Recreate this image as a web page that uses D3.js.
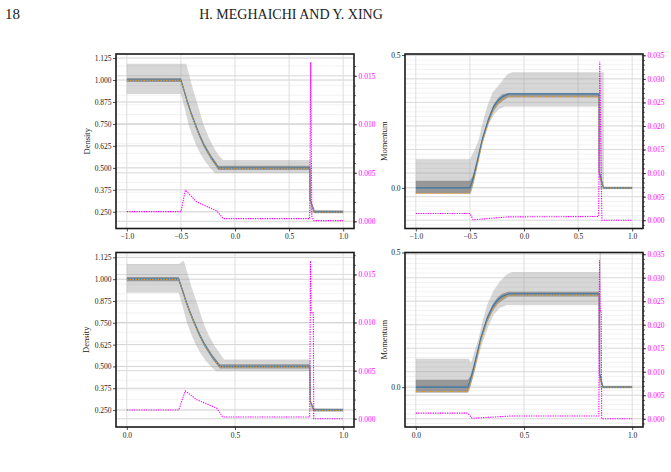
<!DOCTYPE html>
<html><head><meta charset="utf-8">
<script src="https://cdn.jsdelivr.net/npm/d3@7"></script>
<style>body{margin:0;background:#fff}svg{display:block}</style>
</head><body><svg id="c" width="671" height="472"></svg>
<script>
// ---------- DATA ----------
// Top-left: density, x in [-1,1]
const xTop = [-1,-0.5,-0.47,-0.44,-0.405,-0.369,-0.327,-0.283,-0.25,-0.22,-0.185,-0.154,0.692,0.694,0.732,1.0];
const densTopExact  = [1.0,1.0,0.9385,0.875,0.81,0.75,0.684,0.625,0.59,0.558,0.528,0.5,0.5,0.32,0.25,0.25];
const densTopMean   = [0.998,0.998,0.9365,0.873,0.808,0.748,0.682,0.623,0.588,0.556,0.526,0.498,0.498,0.32,0.248,0.248];
const densTopDarkHi = [1.012,1.012,0.9505,0.887,0.822,0.762,0.696,0.637,0.602,0.570,0.540,0.512,0.512,0.33,0.258,0.258];
const densTopDarkLo = [0.988,0.988,0.9265,0.863,0.798,0.738,0.672,0.613,0.578,0.546,0.516,0.488,0.488,0.31,0.242,0.242];
const densTopHiX = [-1,-0.45,-0.42,-0.39,-0.34,-0.293,-0.245,-0.2,-0.155,-0.11,0.705,0.708,0.74,1.0];
const densTopHi  = [1.092,1.092,1.02,0.95,0.85,0.75,0.675,0.62,0.575,0.545,0.545,0.30,0.262,0.258];
const densTopLoX = [-1,-0.5,-0.47,-0.431,-0.395,-0.36,-0.32,-0.28,-0.23,-0.185,0.69,0.692,1.0];
const densTopLo  = [0.92,0.92,0.85,0.75,0.685,0.63,0.58,0.54,0.5,0.47,0.47,0.243,0.243];
const errDensTopX = [-1,-0.5,-0.459,-0.354,-0.169,-0.108,0.69,0.70,0.71,0.73,1.0];
const errDensTop  = [0.001,0.001,0.00321,0.002,0.00107,0.00028,0.00028,0.0164,0.0005,0.00007,0.00007];

// Top-right: momentum, x in [-1,1]
const momTopX = [-1,-0.5,-0.478,-0.457,-0.42,-0.386,-0.33,-0.28,-0.24,-0.2,-0.145,0.692,0.694,0.735,1.0];
const momTopExact  = [0,0,0.025,0.056,0.12,0.181,0.255,0.306,0.329,0.343,0.354,0.354,0.06,0,0];
const momTopMean   = [-0.021,-0.021,0.005,0.04,0.105,0.17,0.245,0.296,0.318,0.332,0.343,0.343,0.05,0,0];
const momTopDarkHi = [0.027,0.027,0.04,0.07,0.132,0.19,0.265,0.315,0.338,0.352,0.356,0.356,0.07,0.003,0.003];
const momTopDarkLo = [-0.021,-0.021,0.0,0.035,0.1,0.165,0.24,0.29,0.313,0.327,0.341,0.341,0.04,-0.003,-0.003];
const momTopHiX = [-1,-0.5,-0.46,-0.418,-0.38,-0.34,-0.29,-0.218,-0.16,-0.11,0.737,0.739,1.0];
const momTopHi  = [0.108,0.108,0.14,0.181,0.25,0.306,0.36,0.394,0.425,0.435,0.435,0.005,0.005];
const momTopLoX = [-1,-0.49,-0.46,-0.43,-0.395,-0.36,-0.32,-0.27,-0.225,-0.18,0.69,0.70,1.0];
const momTopLo  = [-0.022,-0.022,0.03,0.09,0.15,0.2,0.245,0.28,0.298,0.306,0.306,-0.005,-0.005];
const errMomTopX = [-1,-0.5,-0.47,-0.15,0.69,0.70,0.72,1.0];
const errMomTop  = [0.00142,0.00142,0.0001,0.0007,0.00078,0.0336,0.0,0.0];

// Bottom-left: density, x in [0,1]
const xBot = [0,0.24,0.2565,0.273,0.2922,0.3119,0.335,0.3591,0.3773,0.3937,0.4129,0.43,0.846,0.848,0.864,1.0];
const densBotExact  = [1.0,1.0,0.9385,0.875,0.81,0.75,0.684,0.625,0.59,0.558,0.528,0.5,0.5,0.3,0.25,0.25];
const densBotMean   = [0.998,0.998,0.9365,0.873,0.808,0.748,0.682,0.623,0.588,0.556,0.526,0.498,0.498,0.3,0.248,0.248];
const densBotDarkHi = [1.012,1.012,0.9505,0.887,0.822,0.762,0.696,0.637,0.602,0.570,0.540,0.512,0.512,0.31,0.258,0.258];
const densBotDarkLo = [0.988,0.988,0.9265,0.863,0.798,0.738,0.672,0.613,0.578,0.546,0.516,0.488,0.488,0.29,0.242,0.242];
const densBotHiX = [0,0.24,0.262,0.2675,0.2839,0.3004,0.3278,0.3536,0.38,0.4047,0.4294,0.45,0.85,0.852,0.87,1.0];
const densBotHi  = [1.087,1.087,1.106,1.09,1.02,0.95,0.85,0.75,0.675,0.62,0.575,0.54,0.54,0.30,0.26,0.258];
const densBotLoX = [0,0.24,0.2565,0.2779,0.2976,0.3169,0.3388,0.3608,0.3882,0.4129,0.845,0.847,1.0];
const densBotLo  = [0.9226,0.9226,0.85,0.75,0.685,0.63,0.58,0.54,0.5,0.473,0.473,0.243,0.243];
const errDensBotX = [0,0.24,0.27,0.3236,0.4156,0.4433,0.845,0.849,0.852,0.862,0.864,1.0];
const errDensBot  = [0.0009,0.0009,0.0029,0.00197,0.0011,0.00018,0.00018,0.0164,0.011,0.011,0.0,0.0];

// Bottom-right: momentum, x in [0,1]
const momBotX = [0,0.24,0.2516,0.2627,0.2822,0.3002,0.3298,0.3562,0.3773,0.3984,0.4275,0.847,0.849,0.865,1.0];
const momBotExact  = [0,0,0.025,0.056,0.12,0.181,0.255,0.3,0.323,0.337,0.346,0.346,0.05,0,0];
const momBotMean   = [-0.016,-0.016,0.008,0.04,0.105,0.17,0.245,0.29,0.313,0.328,0.342,0.342,0.04,0,0];
const momBotDarkHi = [0.027,0.027,0.04,0.07,0.132,0.19,0.265,0.31,0.333,0.347,0.354,0.354,0.06,0.003,0.003];
const momBotDarkLo = [-0.02,-0.02,0.0,0.035,0.1,0.165,0.24,0.285,0.308,0.322,0.337,0.337,0.03,-0.003,-0.003];
const momBotHiX = [0,0.245,0.255,0.27,0.29,0.31,0.33,0.36,0.39,0.42,0.445,0.848,0.849,0.856,0.858,1.0];
const momBotHi  = [0.105,0.105,0.09,0.13,0.181,0.25,0.306,0.36,0.394,0.418,0.428,0.428,0.5,0.5,0.005,0.005];
const momBotLoX = [0,0.245,0.257,0.27,0.29,0.31,0.335,0.36,0.39,0.42,0.845,0.847,1.0];
const momBotLo  = [-0.02,-0.02,0.02,0.05,0.115,0.17,0.225,0.27,0.295,0.305,0.305,-0.005,-0.005];
const errMomBotX = [0,0.24,0.26,0.44,0.846,0.849,0.852,0.857,0.859,1.0];
const errMomBot  = [0.0012,0.0012,0.0001,0.00057,0.00057,0.0337,0.023,0.023,0.0,0.0];

// Tick labels
const xTicksTop = [-1,-0.5,0,0.5,1];
const xTicksBot = [0,0.5,1];
const densTicks = [0.25,0.375,0.5,0.625,0.75,0.875,1.0,1.125];
const momTicks = [0,0.5];
const errDensTicks = [0,0.005,0.01,0.015];
const errMomTicks = [0,0.005,0.01,0.015,0.02,0.025,0.03,0.035];

// ---------- DRAWING ----------
const svg = d3.select("#c");
const FONT = "'Liberation Serif','DejaVu Serif',serif";
svg.append("rect").attr("width",671).attr("height",472).attr("fill","#fff");
svg.append("text").attr("x",5).attr("y",19).attr("font-family",FONT).attr("font-size",15).attr("fill","#222").text("18");
svg.append("text").attr("x",291).attr("y",19).attr("text-anchor","middle").attr("font-family",FONT).attr("font-size",14).attr("fill","#222").text("H. MEGHAICHI AND Y. XING");

const zip = (xs, ys) => xs.map((v,i)=>[v, ys[i]]);
let clipId = 0;

function panel(o){
  const x = d3.scaleLinear().domain(o.xDom).range([o.left,o.right]);
  const y = d3.scaleLinear().domain(o.yDom).range([o.bottom,o.top]);
  const y2 = d3.scaleLinear().domain(o.y2Dom).range([o.bottom,o.top]);
  const g = svg.append("g");
  const id = "clip"+(clipId++);
  g.append("clipPath").attr("id",id).append("rect")
    .attr("x",o.left).attr("y",o.top).attr("width",o.right-o.left).attr("height",o.bottom-o.top);
  const pg = g.append("g").attr("clip-path",`url(#${id})`);
  // gridlines
  const minor2 = d3.range(o.y2Dom[0], o.y2Dom[1], 0.001).map(v=>Math.round(v*1000)/1000).filter(v=>v>=o.y2Dom[0]&&v<=o.y2Dom[1]);
  pg.selectAll(".gm2").data(minor2).join("line")
    .attr("x1",o.left).attr("x2",o.right).attr("y1",d=>y2(d)).attr("y2",d=>y2(d))
    .attr("stroke","#ececec").attr("stroke-width",0.7);
  pg.selectAll(".gy2").data(o.y2Ticks).join("line")
    .attr("x1",o.left).attr("x2",o.right).attr("y1",d=>y2(d)).attr("y2",d=>y2(d))
    .attr("stroke","#d6d6d6").attr("stroke-width",0.8);
  pg.selectAll(".gy").data(o.yTicks).join("line")
    .attr("x1",o.left).attr("x2",o.right).attr("y1",d=>y(d)).attr("y2",d=>y(d))
    .attr("stroke","#cdcdcd").attr("stroke-width",0.9);
  pg.selectAll(".gx").data(o.xTicks).join("line")
    .attr("y1",o.top).attr("y2",o.bottom).attr("x1",d=>x(d)).attr("x2",d=>x(d))
    .attr("stroke","#dadada").attr("stroke-width",0.9);
  const line = d3.line().x(d=>x(d[0])).y(d=>y(d[1]));
  const line2 = d3.line().x(d=>x(d[0])).y(d=>y2(d[1]));
  const poly = (hi, lo) => line(hi.concat(lo.slice().reverse())) + "Z";
  // light band
  pg.append("path").attr("d", poly(zip(o.hiX,o.hi), zip(o.loX,o.lo)))
    .attr("fill","#9a9a9a").attr("fill-opacity",0.4).attr("stroke","none");
  // dark band
  pg.append("path").attr("d", poly(zip(o.lineX,o.darkHi), zip(o.lineX,o.darkLo)))
    .attr("fill","#5a5a5a").attr("fill-opacity",0.5).attr("stroke","none");
  // exact line
  pg.append("path").attr("d", line(zip(o.lineX,o.exact)))
    .attr("fill","none").attr("stroke","#3b78a8").attr("stroke-width",1.2).attr("stroke-linejoin","round");
  // mean (dashed orange)
  pg.append("path").attr("d", line(zip(o.lineX,o.mean)))
    .attr("fill","none").attr("stroke","#f0a030").attr("stroke-width",0.9).attr("stroke-dasharray","1.6,1.2");
  // error (magenta dotted)
  pg.append("path").attr("d", line2(zip(o.errX,o.err)))
    .attr("fill","none").attr("stroke","#ff00ff").attr("stroke-width",1.1).attr("stroke-dasharray","1.3,1.1");

  // axes
  const styleAxis = (sel, color) => {
    sel.select(".domain").remove();
    sel.selectAll("text").attr("font-family",FONT).attr("font-size",7.5).attr("fill",color);
    sel.selectAll("line").attr("stroke","#222").attr("stroke-width",0.8);
  };
  g.append("g").attr("transform",`translate(${o.left},0)`)
    .call(d3.axisLeft(y).tickValues(o.yTicks).tickFormat(d3.format(o.yFmt)).tickSize(3).tickPadding(1.5))
    .call(s=>styleAxis(s,"#222"));
  g.append("g").attr("transform",`translate(0,${o.bottom})`)
    .call(d3.axisBottom(x).tickValues(o.xTicks).tickFormat(d3.format(".1f")).tickSize(3).tickPadding(2.5))
    .call(s=>styleAxis(s,"#222"));
  g.append("g").attr("transform",`translate(${o.right},0)`)
    .call(d3.axisRight(y2).tickValues(minor2).tickFormat("").tickSize(1.8))
    .call(s=>styleAxis(s,"#ff00ff"));
  g.append("g").attr("transform",`translate(${o.right},0)`)
    .call(d3.axisRight(y2).tickValues(o.y2Ticks).tickFormat(d3.format(".3f")).tickSize(3).tickPadding(1.5))
    .call(s=>styleAxis(s,"#ff00ff"));
  // frame
  g.append("rect").attr("x",o.left).attr("y",o.top).attr("width",o.right-o.left).attr("height",o.bottom-o.top)
    .attr("fill","none").attr("stroke","#1a1a1a").attr("stroke-width",1.6);
  // y label
  g.append("text").attr("transform",`translate(${o.labelX},${(o.top+o.bottom)/2}) rotate(-90)`)
    .attr("text-anchor","middle").attr("font-family",FONT).attr("font-size",8.5).attr("fill","#222")
    .text(o.ylabel);
}

panel({left:116,right:354,top:54,bottom:228.5,xDom:[-1.1,1.1],yDom:[0.155,1.148],y2Dom:[-0.00074,0.01724],
  xTicks:xTicksTop,yTicks:densTicks,y2Ticks:errDensTicks,yFmt:".3f",ylabel:"Density",labelX:90,
  lineX:xTop,exact:densTopExact,mean:densTopMean,darkHi:densTopDarkHi,darkLo:densTopDarkLo,
  hiX:densTopHiX,hi:densTopHi,loX:densTopLoX,lo:densTopLo,errX:errDensTopX,err:errDensTop});
panel({left:405,right:643,top:54,bottom:228.5,xDom:[-1.1,1.1],yDom:[-0.153,0.504],y2Dom:[-0.00176,0.03527],
  xTicks:xTicksTop,yTicks:momTicks,y2Ticks:errMomTicks,yFmt:".1f",ylabel:"Momentum",labelX:387,
  lineX:momTopX,exact:momTopExact,mean:momTopMean,darkHi:momTopDarkHi,darkLo:momTopDarkLo,
  hiX:momTopHiX,hi:momTopHi,loX:momTopLoX,lo:momTopLo,errX:errMomTopX,err:errMomTop});
panel({left:116,right:354,top:252.5,bottom:427,xDom:[-0.05,1.05],yDom:[0.153,1.153],y2Dom:[-0.00086,0.01728],
  xTicks:xTicksBot,yTicks:densTicks,y2Ticks:errDensTicks,yFmt:".3f",ylabel:"Density",labelX:89,
  lineX:xBot,exact:densBotExact,mean:densBotMean,darkHi:densBotDarkHi,darkLo:densBotDarkLo,
  hiX:densBotHiX,hi:densBotHi,loX:densBotLoX,lo:densBotLo,errX:errDensBotX,err:errDensBot});
panel({left:405,right:643,top:252.5,bottom:427,xDom:[-0.05,1.05],yDom:[-0.148,0.5],y2Dom:[-0.00176,0.03536],
  xTicks:xTicksBot,yTicks:momTicks,y2Ticks:errMomTicks,yFmt:".1f",ylabel:"Momentum",labelX:387,
  lineX:momBotX,exact:momBotExact,mean:momBotMean,darkHi:momBotDarkHi,darkLo:momBotDarkLo,
  hiX:momBotHiX,hi:momBotHi,loX:momBotLoX,lo:momBotLo,errX:errMomBotX,err:errMomBot});
</script></body></html>
